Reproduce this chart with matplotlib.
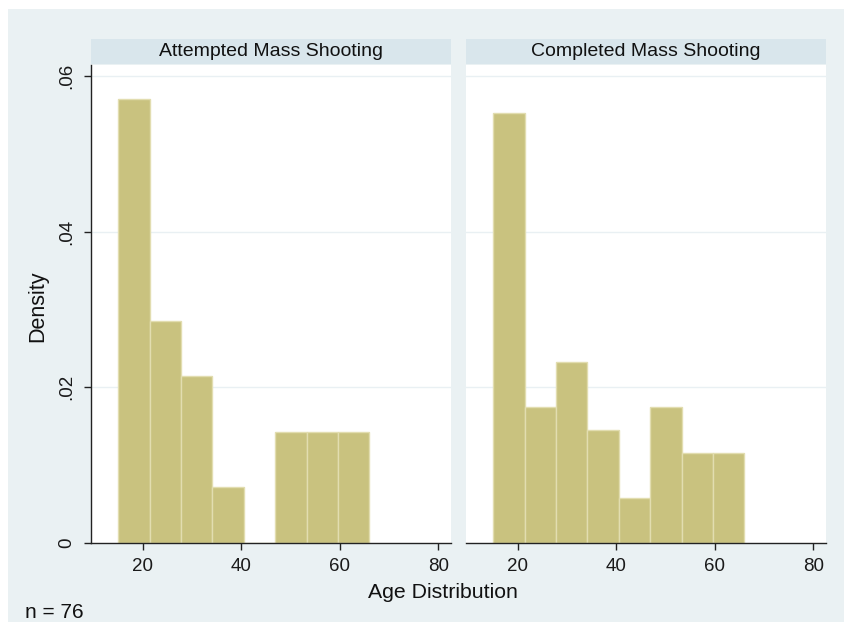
import matplotlib
matplotlib.use("Agg")
import matplotlib.pyplot as plt
from matplotlib.patches import Rectangle
import numpy as np

plt.rcParams['font.family'] = ['Liberation Sans', 'DejaVu Sans']

panels = ["Attempted Mass Shooting", "Completed Mass Shooting"]
bin_start = 15.0
bin_width = 6.375
attempted_counts = [8, 4, 3, 1, 0, 2, 2, 2]
completed_counts = [19, 6, 8, 5, 2, 6, 4, 4]
xticks = [20, 40, 60, 80]
yticks = [0, 0.02, 0.04, 0.06]
ytick_labels = ["0", ".02", ".04", ".06"]
n_total = 76

W, H = 844, 622
fig = plt.figure(figsize=(W / 100, H / 100), dpi=100, facecolor="white")
BG = "#eaf1f3"
HEAD = "#d9e6ec"
BAR = "#c9c27f"
EDGE = "#e2ddb0"
GRID = "#e9f0f3"

fig.patches.append(Rectangle((8 / W, 0), 1, 1 - 9 / H, transform=fig.transFigure,
                             facecolor=BG, edgecolor="none", zorder=-10))

def fx(px):
    return px / W

def fy(py):
    return 1 - py / H

panel_x = [(91, 451), (466, 826)]
top, bottom = 65, 543
for i, (name, counts) in enumerate(zip(panels, [attempted_counts, completed_counts])):
    x0, x1 = panel_x[i]
    ax = fig.add_axes([fx(x0), fy(bottom), fx(x1 - x0), (bottom - top) / H])
    ax.set_facecolor("white")
    counts = np.array(counts, dtype=float)
    N = counts.sum()
    dens = counts / (N * bin_width)
    lefts = bin_start + bin_width * np.arange(len(counts))
    ax.bar(lefts, dens, width=bin_width, align="edge", color=BAR,
           edgecolor=EDGE, linewidth=1.0, zorder=2)
    ax.set_xlim(9.45, 82.6)
    ax.set_ylim(0, 0.0614)
    for yv in yticks[1:]:
        ax.axhline(yv, color=GRID, linewidth=1.0, zorder=1)
    ax.set_xticks(xticks)
    ax.set_xticklabels([str(t) for t in xticks])
    ax.tick_params(axis="x", direction="out", length=5, width=1, color="#222222",
                   labelsize=13.5, pad=6, labelcolor="#1a1a1a")
    for s in ["top", "right"]:
        ax.spines[s].set_visible(False)
    ax.spines["bottom"].set_color("#222222")
    ax.spines["bottom"].set_linewidth(1.0)
    if i == 0:
        ax.set_yticks(yticks)
        ax.set_yticklabels(ytick_labels, rotation=90, va="center")
        ax.tick_params(axis="y", direction="out", length=5, width=1, color="#222222",
                       labelsize=13.5, pad=6, labelcolor="#1a1a1a")
        ax.spines["left"].set_color("#222222")
        ax.spines["left"].set_linewidth(1.0)
    else:
        ax.spines["left"].set_visible(False)
        ax.set_yticks([])
    # header strip
    fig.patches.append(Rectangle((fx(x0), fy(64)), fx(x1 - x0), 25 / H,
                                 transform=fig.transFigure, facecolor=HEAD,
                                 edgecolor="none", zorder=-5))
    fig.text(fx((x0 + x1) / 2), fy(51.5), name, ha="center", va="center",
             fontsize=14, color="#111111")

fig.text(fx(38), fy(306), "Density", rotation=90, ha="center", va="center",
         fontsize=15.5, color="#111111")
fig.text(fx(443), fy(593), "Age Distribution", ha="center", va="center",
         fontsize=15.3, color="#111111")
fig.text(fx(25), fy(612), f"n = {n_total}", ha="left", va="center",
         fontsize=15, color="#111111")

fig.savefig("out.png", dpi=100, facecolor="white")
